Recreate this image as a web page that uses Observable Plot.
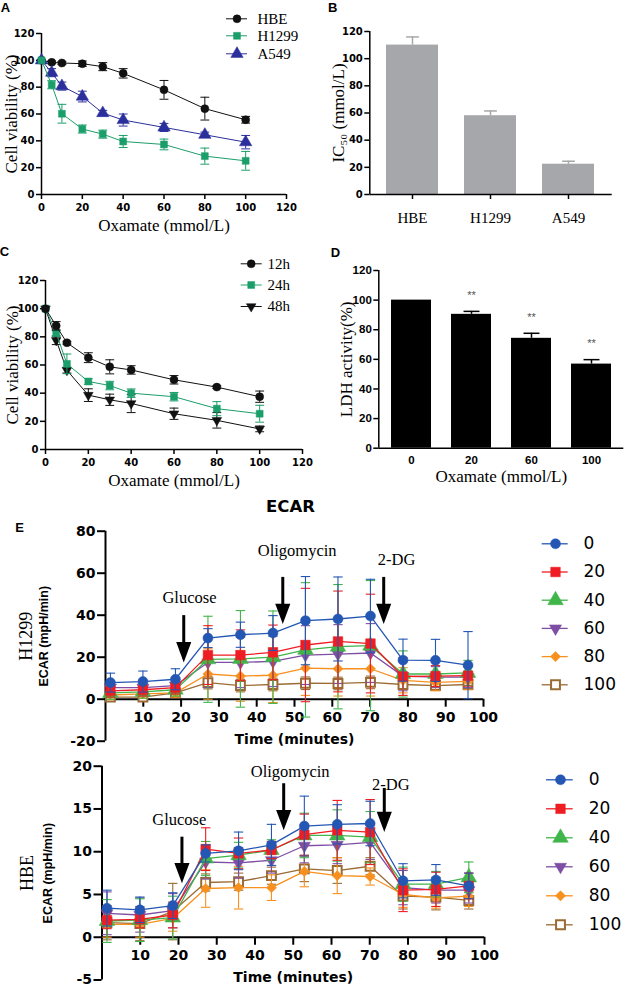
<!DOCTYPE html>
<html><head><meta charset="utf-8">
<script src="https://cdn.jsdelivr.net/npm/d3@7"></script>
<script src="https://cdn.jsdelivr.net/npm/@observablehq/plot@0.6"></script>
<style>
body{margin:0;background:#fff;}
#fig{position:relative;width:625px;height:987px;overflow:hidden;background:#fff;}
</style></head><body><div id="fig"></div>
<script>
// ---------------- DATA ----------------
// Panel A
const concA = [0,5,10,20,30,40,60,80,100];
const ticksA = [0,20,40,60,80,100,120];
const hbeA = [100,98.5,98,97.5,95.3,90.3,78,64,55.7];
const hbeAErr = [0,1,1,2,3,3.5,7,8.5,2.5];
const h1299A = [100,81.8,60.2,48.8,45,39.5,37.3,28.6,25.1];
const h1299AErr = [0,3,7,3,3,4.5,4,6,7];
const a549A = [100,90.8,80.8,73,60.7,55.5,50,44.5,39];
const a549AErr = [0,3,3,4,2,4.5,3,2,5];
const seriesA = ["HBE","H1299","A549"];
// Panel B
const cellsB = ["HBE","H1299","A549"];
const ic50B = [110,58,22.3];
const ic50BErr = [6,3.5,2.2];
// Panel C
const concC = [0,5,10,20,30,40,60,80,100];
const h12C = [100,87.8,75.8,65.2,58.7,56.5,49.5,44.3,37.5];
const h12CErr = [0,3,1,3.5,5,3,3,1,4];
const h24C = [100,82.7,60.8,48.3,45.4,40,37.5,29,25.4];
const h24CErr = [0,2,7,2,3,3,3,5,6];
const h48C = [100,77.5,56.3,38.6,35.3,32.7,25.4,20.7,14.6];
const h48CErr = [0,3,2,4.5,4,6.5,4,5.5,2];
const seriesC = ["12h","24h","48h"];
// Panel D
const doseD = ["0","20","60","100"];
const ldhD = [100,90.4,74.2,56.8];
const ldhDErr = [0,2,3.4,3];
const sigD = ["","**","**","**"];
// Panel E
const doseE = ["0","20","40","60","80","100"];
const timeE = [1.3,9.9,18.5,27.1,35.7,44.3,52.9,61.5,70.1,78.7,87.3,95.9];
const xticksE = [10,20,30,40,50,60,70,80,90,100];
const yticksE1 = [-20,0,20,40,60,80];
const yticksE2 = [-5,0,5,10,15,20];
// H1299 ECAR
const h1299E0   = [7.9,8.4,9.5,29.1,30.7,31.5,37.4,38.2,39.6,18.6,18.5,16.2];
const h1299E20  = [4.0,4.5,5.5,21.0,21.0,22.3,25.8,27.5,26.5,10.8,11.0,11.2];
const h1299E40  = [3.0,3.5,4.5,19.0,19.2,20.0,23.5,25.0,25.5,12.0,12.0,12.5];
const h1299E60  = [5.5,5.5,6.5,17.5,17.5,18.0,21.0,21.5,22.0,11.0,10.5,10.5];
const h1299E80  = [2.0,2.5,3.0,12.0,11.0,11.4,14.8,14.5,14.5,9.0,8.0,8.5];
const h1299E100 = [1.0,1.0,3.0,7.9,6.5,7.0,7.6,7.5,8.0,7.0,6.5,7.0];
const h1299Err0   = [4.5,5,5,4.5,6,8.3,21,20,17.5,10,10,16];
const h1299Err20  = [3,3,3,14,12,13,27,24,23.5,9,5,5];
const h1299Err40  = [3,3,3,20.5,23,22,32,29.6,31,11,6,6];
const h1299Err60  = [3,3,3,12,12,12,14,14,14,7,5,5];
const h1299Err80  = [2,2,2,12,12,13,13,13,13,6,4,4];
const h1299Err100 = [1.5,1.5,2,3,3,3,3,3,3,2,2,2];
// HBE ECAR
const hbeE0   = [3.4,3.2,3.7,9.8,10.1,10.8,13.0,13.2,13.3,6.6,6.7,6.0];
const hbeE20  = [2.0,2.1,2.6,10.3,9.8,10.2,12.0,12.5,12.3,5.5,5.6,6.0];
const hbeE40  = [1.9,2.0,2.3,9.2,9.6,10.2,11.9,11.9,11.7,6.2,6.2,7.0];
const hbeE60  = [2.8,2.6,3.1,8.8,8.7,9.0,10.7,10.8,11.1,5.8,5.5,5.5];
const hbeE80  = [1.5,1.5,2.2,5.7,5.8,5.8,7.7,7.2,7.1,5.0,4.6,4.8];
const hbeE100 = [1.7,1.6,3.0,6.4,6.5,7.2,8.0,7.8,8.3,4.8,4.7,4.3];
const hbeErr0   = [2.1,1.5,1.5,1.0,2.2,2.4,3.5,2.3,2.6,2.0,1.8,1.5];
const hbeErr20  = [1.0,1.0,1.5,2.5,1.8,1.0,2.4,3.5,3.8,2.5,2.0,1.5];
const hbeErr40  = [2.5,2.5,2.5,2.0,1.5,1.2,2.6,3.0,3.0,2.0,1.5,1.8];
const hbeErr60  = [2.5,2.0,2.0,2.0,1.8,1.5,2.0,2.2,2.0,2.0,1.5,1.5];
const hbeErr80  = [1.5,1.5,1.5,2.2,2.5,1.5,1.8,2.1,1.0,1.5,1.2,1.2];
const hbeErr100 = [2.0,2.0,3.3,1.0,1.0,1.0,1.5,1.5,1.0,1.5,1.5,1.0];
// Treatment annotations (label, injection time, arrow top / tip, label position)
const arrowLabels = ["Glucose","Oligomycin","2-DG"];
const arrowT1 = [20.7,46.9,73.6];
const arrowTop1 = [39.8,58,58];
const arrowTip1 = [17.5,35.8,35.8];
const labelT1 = [22.2,50.7,77];
const labelV1 = [48.2,70.5,66.2];
const arrowT2 = [20.9,47.5,73.8];
const arrowTop2 = [11.7,17.95,17.4];
const arrowTip2 = [6.3,12.5,12.3];
const labelT2 = [20.2,49.2,75.5];
const labelV2 = [13.7,19.35,17.8];

// ---------------- STYLE ----------------
const serif = "'Liberation Serif','Times New Roman',serif";
const sansW = "'DejaVu Sans',sans-serif";
const arial = "'Liberation Sans',Arial,sans-serif";
const colE = ["#2457b3","#ee1d23","#40b54a","#7d4ea3","#f7901e","#9b6b33"];

const capSym = {draw(ctx, size){ const w = Math.sqrt(size)/2; ctx.moveTo(-w,0); ctx.lineTo(w,0); }};
const triDown = {draw(ctx, size){ const s = Math.sqrt(size)*0.6824, t = s/2, u = s*Math.sqrt(3)/2; ctx.moveTo(0,s); ctx.lineTo(u,-t); ctx.lineTo(-u,-t); ctx.closePath(); }};
const arrowHead = {draw(ctx, size){ const s = Math.sqrt(size)/2; ctx.moveTo(-s,-2.7*s); ctx.lineTo(s,-2.7*s); ctx.lineTo(0,0); ctx.closePath(); }};
const symE = ["circle","square","triangle",triDown,"diamond2","square"];
const rE = [5,5.4,5.8,5.8,4.6,5];

const fig = document.getElementById("fig");
function place(el, left, top){
  el.style.position = "absolute"; el.style.left = left+"px"; el.style.top = top+"px";
  el.style.background = "transparent"; el.style.overflow = "visible"; el.style.maxWidth = "none";
  fig.appendChild(el);
}
// a free-standing label anchored on the frame, centred on its point
function label(str, o) {
  return Plot.text([str], {text: d=>d, textAnchor: "middle", lineAnchor: "middle", fontWeight: "normal", ...o});
}

function seriesMarks(xs, ys, errs, color, symbol, r, o = {}) {
  const data = xs.map((x,i)=>({x, y: ys[i], e: errs[i]}));
  const de = data.filter(d=>d.e>0);
  const esw = o.esw ?? 1;
  return [
    Plot.line(data, {x:"x", y:"y", stroke: color, strokeWidth: o.sw ?? 1}),
    Plot.ruleX(de, {x:"x", y1: d=>d.y-d.e, y2: d=>d.y+d.e, stroke: color, strokeWidth: esw}),
    Plot.dot(de, {x:"x", y: d=>d.y+d.e, symbol: capSym, r: o.capR ?? 5, stroke: color, fill:"none", strokeWidth: esw}),
    Plot.dot(de, {x:"x", y: d=>d.y-d.e, symbol: capSym, r: o.capR ?? 5, stroke: color, fill:"none", strokeWidth: esw}),
    Plot.dot(data, {x:"x", y:"y", symbol, r, fill: o.open ? "white" : color, stroke: color, strokeWidth: o.open ? 2 : 0.5})
  ];
}

function legendPlot(items, {x0, y0, w, h, rows, line, markX, textX, font, fontSize, lineW}) {
  const marks = [];
  items.forEach((it, i) => {
    const row = [{n: it.name, y: rows[i]-y0}];
    marks.push(Plot.ruleY(row, {y:"y", x1: line[0]-x0, x2: line[1]-x0, stroke: it.color, strokeWidth: lineW}));
    marks.push(Plot.dot(row, {x: markX-x0, y:"y", symbol: it.symbol, r: it.r, fill: it.open ? "white" : it.color, stroke: it.color, strokeWidth: it.open ? 2 : 0.5}));
    marks.push(Plot.text(row, {x: textX-x0, y:"y", text:"n", textAnchor:"start", fontFamily: font, fontSize, fill:"black"}));
  });
  const p = Plot.plot({width: w, height: h, marginTop:0, marginBottom:0, marginLeft:0, marginRight:0,
    x: {domain:[0,w], range:[0,w], axis:null}, y: {domain:[0,h], range:[0,h], axis:null}, marks});
  place(p, x0, y0);
}

const baseStyle = {fontFamily: sansW, fontSize: "10px", fontWeight: "bold", color: "black"};
const tf = d => String(d);

// ---------------- PANEL A ----------------
const plotA = Plot.plot({
  width: 310, height: 232, marginLeft: 41, marginRight: 24, marginTop: 33, marginBottom: 38,
  style: baseStyle,
  x: {domain: [0,120]}, y: {domain: [0,120]},
  marks: [
    Plot.axisX({ticks: ticksA, tickSize: 5, tickPadding: 4, label: null, strokeWidth: 1.5, tickFormat: tf}),
    Plot.axisY({ticks: ticksA, tickSize: 5, tickPadding: 2, label: null, strokeWidth: 1.5, tickFormat: tf}),
    Plot.ruleX([0], {strokeWidth: 1.5}),
    Plot.ruleY([0], {strokeWidth: 1.5}),
    ...seriesMarks(concA, hbeA, hbeAErr, "#111", "circle", 4),
    ...seriesMarks(concA, a549A, a549AErr, "#2b2f9c", "triangle", 4.6),
    ...seriesMarks(concA, h1299A, h1299AErr, "#1c9e6a", "square", 3.9),
    label("Oxamate (mmol/L)", {frameAnchor:"bottom", dy: 31, fontFamily: serif, fontSize: 17}),
    label("Cell viability (%)", {frameAnchor:"left", dx: -30, rotate: -90, fontFamily: serif, fontSize: 17}),
    label("A", {frameAnchor:"top-left", dx: -36, dy: -26, fontFamily: arial, fontSize: 13, fontWeight:"bold"})
  ]
});
place(plotA, 0, 0);
legendPlot([
  {name: seriesA[0], color:"#111", symbol:"circle", r:4},
  {name: seriesA[1], color:"#1c9e6a", symbol:"square", r:3.9},
  {name: seriesA[2], color:"#2b2f9c", symbol:"triangle", r:4.6}
], {x0: 220, y0: 5, w: 90, h: 60, rows: [18.3,35.3,53.3], line: [226,247], markX: 236.5, textX: 257, font: serif, fontSize: 15, lineW: 1});

// ---------------- PANEL B ----------------
const dataB = cellsB.map((c,i)=>({c, v: ic50B[i], e: ic50BErr[i]}));
const innerB = 305 - 49.3 - 13.3;
const plotB = Plot.plot({
  width: 305, height: 232, marginLeft: 49.3, marginRight: 13.3, marginTop: 31, marginBottom: 38,
  style: baseStyle,
  x: {type: "band", domain: cellsB, paddingInner: 0.33, paddingOuter: 0.2},
  y: {domain: [0,120]},
  marks: [
    Plot.barY(dataB, {x:"c", y:"v", fill:"#a6a7aa"}),
    Plot.ruleX(dataB, {x:"c", y1:"v", y2: d=>d.v+d.e, stroke:"#a6a7aa", strokeWidth: 1.5}),
    Plot.dot(dataB, {x:"c", y: d=>d.v+d.e, symbol: capSym, r: 7.2, stroke:"#a6a7aa", fill:"none", strokeWidth: 1.5}),
    Plot.axisX({tickSize: 5, tickPadding: 13, label: null, strokeWidth: 1.5, fontFamily: serif, fontSize: 15, fontWeight: "normal"}),
    Plot.axisY({ticks: ticksA, tickSize: 5, tickPadding: 2, label: null, strokeWidth: 1.5, tickFormat: tf}),
    Plot.ruleY([0], {strokeWidth: 1.5}),
    Plot.ruleX([0], {x: null, dx: -innerB/2, strokeWidth: 1.5}),
    label("IC₅₀ (mmol/L)", {frameAnchor:"left", dx: -31, rotate: -90, fontFamily: serif, fontSize: 17}),
    label("B", {frameAnchor:"top-left", dx: -37, dy: -23.5, fontFamily: arial, fontSize: 13, fontWeight:"bold"})
  ]
});
place(plotB, 320, 0);

// ---------------- PANEL C ----------------
const plotC = Plot.plot({
  width: 320, height: 260, marginLeft: 45, marginRight: 18, marginTop: 48, marginBottom: 43,
  style: baseStyle,
  x: {domain: [0,120]}, y: {domain: [0,120]},
  marks: [
    Plot.axisX({ticks: ticksA, tickSize: 5, tickPadding: 4, label: null, strokeWidth: 1.5, tickFormat: tf}),
    Plot.axisY({ticks: ticksA, tickSize: 5, tickPadding: 2, label: null, strokeWidth: 1.5, tickFormat: tf}),
    Plot.ruleX([0], {strokeWidth: 1.5}),
    Plot.ruleY([0], {strokeWidth: 1.5}),
    ...seriesMarks(concC, h48C, h48CErr, "#111", triDown, 4.6),
    ...seriesMarks(concC, h24C, h24CErr, "#1c9e6a", "square", 3.9),
    ...seriesMarks(concC, h12C, h12CErr, "#111", "circle", 4),
    label("Oxamate (mmol/L)", {frameAnchor:"bottom", dy: 31, fontFamily: serif, fontSize: 17}),
    label("Cell viability (%)", {frameAnchor:"left", dx: -33, rotate: -90, fontFamily: serif, fontSize: 17}),
    label("C", {frameAnchor:"top-left", dx: -41, dy: -28.3, fontFamily: arial, fontSize: 13, fontWeight:"bold"})
  ]
});
place(plotC, 0, 232);
legendPlot([
  {name: seriesC[0], color:"#111", symbol:"circle", r:4},
  {name: seriesC[1], color:"#1c9e6a", symbol:"square", r:3.9},
  {name: seriesC[2], color:"#111", symbol: triDown, r:4.6}
], {x0: 235, y0: 250, w: 80, h: 70, rows: [263.3,284.5,306], line: [240.7,261.7], markX: 250.7, textX: 267, font: serif, fontSize: 15, lineW: 1});

// ---------------- PANEL D ----------------
const dataD = doseD.map((d,i)=>({d, v: ldhD[i], e: ldhDErr[i], s: sigD[i]}));
const innerD = 305 - 58.3 - 1.7;
const plotD = Plot.plot({
  width: 305, height: 260, marginLeft: 58.3, marginRight: 1.7, marginTop: 38, marginBottom: 44.3,
  style: baseStyle,
  x: {type: "band", domain: doseD, paddingInner: 0.33, paddingOuter: 0.175},
  y: {domain: [0,120]},
  marks: [
    Plot.barY(dataD, {x:"d", y:"v", fill:"black"}),
    Plot.ruleX(dataD.filter(d=>d.e>0), {x:"d", y1:"v", y2: d=>d.v+d.e, stroke:"black", strokeWidth: 1.5}),
    Plot.dot(dataD.filter(d=>d.e>0), {x:"d", y: d=>d.v+d.e, symbol: capSym, r: 9, stroke:"black", fill:"none", strokeWidth: 1.5}),
    Plot.text(dataD, {x:"d", y: d=>d.v+d.e, text:"s", dy: -16, fill:"#555", fontSize: 11, fontWeight:"normal", fontFamily: arial}),
    Plot.axisX({tickSize: 0, tickPadding: 8, label: null, fontFamily: arial, fontSize: 11.5, fontWeight:"bold"}),
    Plot.axisY({ticks: ticksA, tickSize: 5, tickPadding: 2, label: null, strokeWidth: 1.5, tickFormat: tf, fontFamily: arial, fontSize: 11.5}),
    Plot.ruleY([0], {strokeWidth: 1.5}),
    Plot.ruleX([0], {x: null, dx: -innerD/2, strokeWidth: 1.5}),
    label("Oxamate (mmol/L)", {frameAnchor:"bottom", dy: 28.5, fontFamily: serif, fontSize: 17}),
    label("LDH activity(%)", {frameAnchor:"left", dx: -32, rotate: -90, fontFamily: serif, fontSize: 17}),
    label("D", {frameAnchor:"top-left", dx: -43.3, dy: -17.5, fontFamily: arial, fontSize: 13, fontWeight:"bold"})
  ]
});
place(plotD, 320, 232);

// ---------------- PANEL E ----------------
function ecarPlot({height, mt, mb, ml, mr, ydom, yticks, ys, errs, cell, ecarDx, cellDx, arrows, extra}) {
  const seriesM = [];
  for (let k = ys.length-1; k >= 0; k--) {
    seriesM.push(...seriesMarks(timeE, ys[k], errs[k], colE[k], symE[k], rE[k], {sw: 1.3, esw: 1.1, capR: 5.3, open: k === 5}));
  }
  const ar = arrowLabels.map((l,i)=>({l, t: arrows.t[i], top: arrows.top[i], tip: arrows.tip[i], lt: arrows.lt[i], lv: arrows.lv[i]}));
  return Plot.plot({
    width: 625, height, marginTop: mt, marginBottom: mb, marginLeft: ml, marginRight: mr,
    style: {fontFamily: sansW, fontSize: "14px", fontWeight: "bold", color: "black"},
    x: {domain: [0,100], axis: null}, y: {domain: ydom},
    marks: [
      Plot.axisY({ticks: yticks, tickSize: 8, tickPadding: 2, label: null, strokeWidth: 2, tickFormat: tf, fontSize: 14}),
      Plot.ruleX([0], {strokeWidth: 2}),
      Plot.ruleY([0], {strokeWidth: 2}),
      Plot.ruleX(xticksE, {x: d=>d, y1: 0, y2: 0, insetBottom: -8, strokeWidth: 2}),
      Plot.text(xticksE, {x: d=>d, y: 0, text: d=>String(d), dy: 18.7, fontSize: 14}),
      Plot.text(["Time (minutes)"], {text: d=>d, x: 50, y: 0, dy: 40, fontSize: 14}),
      ...seriesM,
      Plot.ruleX(ar, {x:"t", y1:"top", y2:"tip", insetBottom: 8, strokeWidth: 3, stroke:"black"}),
      Plot.dot(ar, {x:"t", y:"tip", symbol: arrowHead, r: 8.5, fill:"black", stroke:"none"}),
      Plot.text(ar, {x:"lt", y:"lv", text:"l", fontFamily: serif, fontSize: 16.5, fontWeight:"normal"}),
      label(cell, {frameAnchor:"left", dx: cellDx, rotate: -90, fontFamily: serif, fontSize: 18}),
      label("ECAR (mpH/min)", {frameAnchor:"left", dx: ecarDx, rotate: -90, fontFamily: arial, fontSize: 12.5, fontWeight:"bold"}),
      ...extra
    ]
  });
}

const plotE1 = ecarPlot({
  height: 258, mt: 38.7, mb: 9.3, ml: 105, mr: 142, ydom: [-20,80], yticks: yticksE1,
  ys: [h1299E0,h1299E20,h1299E40,h1299E60,h1299E80,h1299E100],
  errs: [h1299Err0,h1299Err20,h1299Err40,h1299Err60,h1299Err80,h1299Err100],
  cell: "H1299", cellDx: -79.5, ecarDx: -61.5,
  arrows: {t: arrowT1, top: arrowTop1, tip: arrowTip1, lt: labelT1, lv: labelV1},
  extra: [
    label("ECAR", {frameAnchor:"top-left", dx: 185, dy: -24.7, fontFamily: sansW, fontSize: 16.5, fontWeight:"bold"}),
    label("E", {frameAnchor:"top-left", dx: -86, dy: -3.5, fontFamily: arial, fontSize: 13, fontWeight:"bold"})
  ]
});
place(plotE1, 0, 492);

const plotE2 = ecarPlot({
  height: 237, mt: 15.7, mb: 7.5, ml: 101.5, mr: 141, ydom: [-5,20], yticks: yticksE2,
  ys: [hbeE0,hbeE20,hbeE40,hbeE60,hbeE80,hbeE100],
  errs: [hbeErr0,hbeErr20,hbeErr40,hbeErr60,hbeErr80,hbeErr100],
  cell: "HBE", cellDx: -74.5, ecarDx: -54,
  arrows: {t: arrowT2, top: arrowTop2, tip: arrowTip2, lt: labelT2, lv: labelV2},
  extra: []
});
place(plotE2, 0, 750);

const legItemsE = doseE.map((n,k)=>({name: n, color: colE[k], symbol: symE[k], r: rE[k], open: k === 5}));
legendPlot(legItemsE, {x0: 535, y0: 528, w: 90, h: 175, rows: [543.3,571.5,599.7,627.9,656.1,684.3], line: [541.7,567.7], markX: 555, textX: 583, font: sansW, fontSize: 17, lineW: 1.3});
legendPlot(legItemsE, {x0: 540, y0: 764, w: 85, h: 176, rows: [779.3,808.3,837.3,866.3,895.3,924.3], line: [546,572.7], markX: 560, textX: 588.3, font: sansW, fontSize: 17, lineW: 1.3});
</script>
</body></html>
